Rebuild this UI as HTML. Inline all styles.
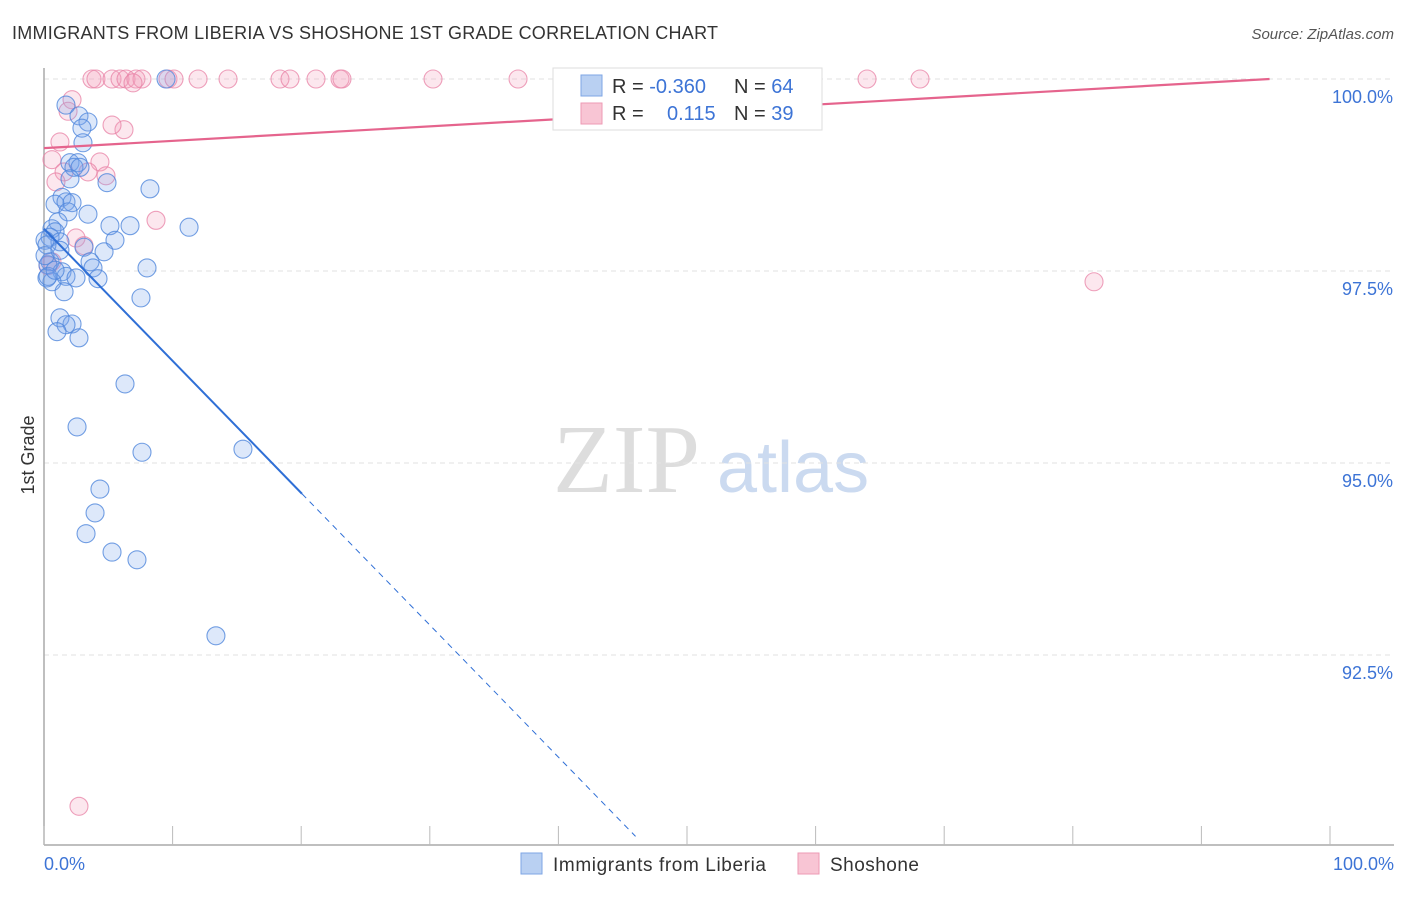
<!DOCTYPE html>
<html><head><meta charset="utf-8"><style>
body{margin:0;background:#fff;font-family:"Liberation Sans",sans-serif;}
svg text{font-family:"Liberation Sans",sans-serif;}
svg text.serif{font-family:"Liberation Serif",serif;}
</style></head><body>
<svg id="chart" width="1406" height="892" xmlns="http://www.w3.org/2000/svg">
<text x="12" y="39" font-size="18" fill="#333" textLength="706">IMMIGRANTS FROM LIBERIA VS SHOSHONE 1ST GRADE CORRELATION CHART</text>
<text x="1394" y="39" font-size="15" fill="#555" font-style="italic" text-anchor="end">Source: ZipAtlas.com</text>
<text x="34" y="455" font-size="18" fill="#333" transform="rotate(-90 34 455)" text-anchor="middle">1st Grade</text>
<g>
<text class="serif" x="553" y="492" font-size="98" fill="#ddd">ZIP</text>
<text x="717" y="492" font-size="72" fill="#cbdaf0">atlas</text>
</g>
<g id="grid"></g><g id="axes"></g><g id="marks"></g>
<g>
<rect x="553" y="68" width="269" height="62" fill="#fff" stroke="#ddd"/>
<rect x="581" y="75" width="21" height="21" fill="#b9d0f2" stroke="#7ea6e4"/>
<rect x="581" y="103" width="21" height="21" fill="#f8c5d4" stroke="#ee9ab4"/>
<text x="612" y="93" font-size="20" fill="#333">R = <tspan fill="#3d74d6">-0.360</tspan></text>
<text x="734" y="93" font-size="20" fill="#333">N = <tspan fill="#3d74d6">64</tspan></text>
<text x="612" y="120" font-size="20" fill="#333">R = <tspan x="667" fill="#3d74d6">0.115</tspan></text>
<text x="734" y="120" font-size="20" fill="#333">N = <tspan fill="#3d74d6">39</tspan></text>
</g>
<g>
<rect x="521" y="853" width="21" height="21" fill="#b9d0f2" stroke="#7ea6e4"/>
<text x="553" y="871" font-size="19" fill="#333" textLength="213">Immigrants from Liberia</text>
<rect x="798" y="853" width="21" height="21" fill="#f8c5d4" stroke="#ee9ab4"/>
<text x="830" y="871" font-size="19" fill="#333" textLength="89">Shoshone</text>
</g>
</svg>
<script>
const yTicks=[100,97.5,95,92.5];
const yTickLabels=["100.0%","97.5%","95.0%","92.5%"];
const xTickLabels=["0.0%","100.0%"];
const blueX=[9.49,1.71,2.72,3.42,2.95,3.03,2.02,2.64,2.33,2.80,2.02,4.90,8.24,1.40,0.86,1.71,2.18,1.87,3.42,1.09,5.13,6.69,11.28,0.62,0.86,0.47,5.52,1.24,3.11,4.67,3.58,0.47,0.31,3.81,8.01,1.40,1.71,2.49,4.20,0.23,0.62,0.31,1.56,7.54,1.24,2.18,1.71,1.01,2.72,6.30,2.57,7.62,15.47,4.35,3.97,3.27,5.29,7.23,13.37,0.08,0.23,0.86,0.08,1.24];
const blueY=[100,99.66,99.52,99.44,99.36,99.17,98.91,98.91,98.85,98.85,98.70,98.65,98.57,98.46,98.37,98.40,98.39,98.27,98.24,98.14,98.09,98.09,98.07,98.05,98.01,97.94,97.90,97.88,97.81,97.75,97.62,97.62,97.58,97.54,97.54,97.49,97.43,97.41,97.40,97.41,97.36,97.43,97.23,97.15,96.89,96.81,96.80,96.71,96.63,96.03,95.47,95.14,95.18,94.66,94.35,94.08,93.84,93.74,92.75,97.90,97.84,97.51,97.70,97.77];
const pinkX=[3.73,4.04,5.29,5.91,6.38,7.15,7.62,9.64,10.11,11.98,14.31,18.35,19.13,21.15,23.02,23.17,30.25,36.86,64.0,68.12,2.18,1.87,6.22,5.29,1.24,0.62,4.35,1.56,3.42,4.82,0.93,8.71,2.49,3.11,0.62,0.31,81.65,2.72,6.92];
const pinkY=[100,100,100,100,100,100,100,100,100,100,100,100,100,100,100,100,100,100,100,100,99.73,99.58,99.34,99.40,99.18,98.95,98.92,98.79,98.79,98.74,98.66,98.16,97.93,97.83,97.62,97.57,97.36,90.53,99.95];
const blueTrend=[98.05,-0.172];
const pinkTrend=[99.10,0.00944];
const NS="http://www.w3.org/2000/svg";
const X0=44,X1=1330,YTOP=79,PXPER=76.8;
function sx(v){return X0+(X1-X0)*v/100;}
function sy(v){return YTOP+(100-v)*PXPER;}
function mk(tag,attrs,parent){const e=document.createElementNS(NS,tag);for(const k in attrs)e.setAttribute(k,attrs[k]);parent.appendChild(e);return e;}
const grid=document.getElementById('grid'),axes=document.getElementById('axes'),marks=document.getElementById('marks');
yTicks.forEach((t,i)=>{
 const l=mk('line',{x1:X0,x2:1394,y1:sy(t),y2:sy(t),stroke:'#e2e2e2','stroke-dasharray':'5,4'},grid);
 
 
 const tx=mk('text',{x:1393,y:sy(t)+24,'font-size':18,fill:'#3d74d6','text-anchor':'end'},axes);
 tx.textContent=yTickLabels[i];
 
 
});
const xa=mk('line',{x1:X0,x2:1394,y1:845,y2:845,stroke:'#aaa','stroke-width':1.5},axes);


const ya=mk('line',{x1:X0,x2:X0,y1:68,y2:845,stroke:'#aaa','stroke-width':1.5},axes);


for(let i=0;i<=10;i++){
 const t=mk('line',{x1:sx(i*10),x2:sx(i*10),y1:826,y2:845,stroke:'#bbb'},axes);
 
 
}
[[0,'start',44],[100,'end',1394]].forEach((d,i)=>{
 const tx=mk('text',{x:d[2],y:870,'font-size':18,fill:'#3d74d6','text-anchor':d[1]},axes);
 tx.textContent=xTickLabels[i];
 
 
});
function dots(xs,ys,fill,stroke,name){xs.forEach((x,i)=>{
 const c=mk('circle',{cx:sx(x),cy:sy(ys[i]),r:9,fill:fill,stroke:stroke,'stroke-width':1.1},marks);
 
 
});}
dots(pinkX,pinkY,'rgba(244,160,188,0.25)','rgba(232,130,165,0.75)','shoshone-point');
dots(blueX,blueY,'rgba(120,165,235,0.25)','rgba(80,135,220,0.8)','liberia-point');
const bt=v=>blueTrend[0]+blueTrend[1]*v;
const pt=v=>pinkTrend[0]+pinkTrend[1]*v;
const b1=mk('line',{x1:sx(0),y1:sy(bt(0)),x2:sx(20.06),y2:sy(bt(20.06)),stroke:'#2f6fd6','stroke-width':2},marks);


const b2=mk('line',{x1:sx(20.06),y1:sy(bt(20.06)),x2:sx(46),y2:sy(bt(46)),stroke:'#2f6fd6','stroke-width':1,'stroke-dasharray':'6,5'},marks);


const p1=mk('line',{x1:sx(0),y1:sy(pt(0)),x2:sx(95.3),y2:sy(pt(95.3)),stroke:'#e5648d','stroke-width':2.2},marks);


</script>
</body></html>
